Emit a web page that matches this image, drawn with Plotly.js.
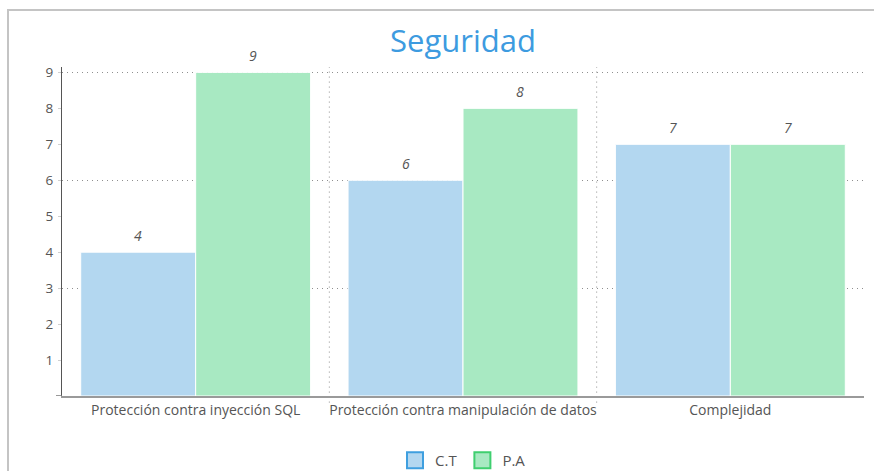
<!DOCTYPE html>
<html>
<head>
<meta charset="utf-8">
<script src="https://cdn.plot.ly/plotly-3.0.1.min.js"></script>
<style>
  html, body { margin: 0; padding: 0; background: #fff; }
  #wrap { position: relative; width: 874px; height: 471px; overflow: hidden; }
  #chart { position: absolute; left: 0; top: 0; width: 874px; height: 471px; }
  #frame { position: absolute; left: 7px; top: 9px; width: 900px; height: 500px;
           border-left: 2px solid #c4c4c4; border-top: 2px solid #c4c4c4; pointer-events: none; }
</style>
</head>
<body>
<div id="wrap">
  <div id="chart"></div>
  <div id="frame"></div>
</div>
<script>
const categories = ["Protección contra inyección SQL", "Protección contra manipulación de datos", "Complejidad"];
const seriesNames = ["C.T", "P.A"];
const valuesCT = [4, 6, 7];
const valuesPA = [9, 8, 7];
const yTickVals = [1, 2, 3, 4, 5, 6, 7, 8, 9];
const yGridVals = [3, 6, 9];
const chartTitle = "Seguridad";

const fillColors = ["#b3d7f0", "#a8e9c2"];
const borderColors = ["#3f9fdf", "#3fcf6f"];
const BARGAP = 0.14;
const yRange = [0, 9.15];
const FONT = "Open Sans, sans-serif";

const series = [valuesCT, valuesPA];

const traces = series.map((vals, k) => ({
  type: "bar",
  x: categories,
  y: vals,
  name: seriesNames[k],
  showlegend: false,
  marker: { color: fillColors[k], line: { color: "#ffffff", width: 1 } },
  hoverinfo: "x+y+name"
}));

// legend-only markers on an overlay axis so they do not affect bar grouping
seriesNames.forEach((nm, k) => {
  traces.push({
    type: "scatter", mode: "markers",
    x: [null], y: [null],
    xaxis: "x2", yaxis: "y2",
    name: nm,
    showlegend: true,
    marker: { symbol: "square", size: 16, color: fillColors[k], line: { color: borderColors[k], width: 2 } }
  });
});

// value labels above bars
const annotations = [];
const half = (1 - BARGAP) / 4;
series.forEach((vals, k) => {
  vals.forEach((v, i) => {
    annotations.push({
      xref: "x", yref: "y",
      x: i + (k === 0 ? -half : half),
      y: v,
      text: String(v),
      showarrow: false,
      yanchor: "bottom",
      yshift: 5,
      font: { family: FONT, size: 14, color: "#555555", style: "italic" }
    });
  });
});

// vertical dotted separators between categories
const shapes = [];
for (let i = 0; i < categories.length - 1; i++) {
  shapes.push({
    type: "line", xref: "x", yref: "paper",
    x0: i + 0.5, x1: i + 0.5, y0: -0.02, y1: 1,
    line: { color: "#8f8f8f", width: 1, dash: "1px,4px" },
    layer: "below"
  });
}
// small crossing extensions at origin
shapes.push({
  type: "line", xref: "paper", yref: "y", xsizemode: "pixel", xanchor: 0,
  x0: -6, x1: 0, y0: 0, y1: 0, line: { color: "#777777", width: 1.5 }
});
shapes.push({
  type: "line", xref: "paper", yref: "y", ysizemode: "pixel", yanchor: 0,
  x0: 0, x1: 0, y0: -7, y1: 0, line: { color: "#555555", width: 1 }
});

const layout = {
  width: 874, height: 471,
  margin: { l: 62, r: 9.5, t: 67, b: 75, autoexpand: false },
  paper_bgcolor: "#ffffff",
  plot_bgcolor: "#ffffff",
  font: { family: FONT, color: "#555555", size: 12 },
  title: {
    text: chartTitle,
    font: { family: FONT, size: 31, color: "#3d9be0" },
    x: 0.5, xref: "paper", xanchor: "center",
    y: 1 - 41 / 471, yanchor: "middle"
  },
  barmode: "group",
  bargap: BARGAP,
  bargroupgap: 0,
  xaxis: {
    type: "category",
    showgrid: false,
    showline: true, linecolor: "#9a9a9a", linewidth: 2,
    ticks: "",
    tickfont: { family: FONT, size: 14, color: "#555555" },
    zeroline: false,
    automargin: false,
    fixedrange: true
  },
  yaxis: {
    range: yRange,
    tickvals: yTickVals,
    showgrid: false,
    showline: true, linecolor: "#555555", linewidth: 1,
    ticks: "outside", ticklen: 3, tickcolor: "#cfcfcf", tickwidth: 1,
    tickfont: { family: FONT, size: 13.5, color: "#555555" },
    ticklabelstandoff: 2,
    zeroline: false,
    automargin: false,
    fixedrange: true
  },
  yaxis2: {
    overlaying: "y",
    range: yRange,
    tickvals: yGridVals,
    showgrid: true, gridcolor: "#8f8f8f", griddash: "1px,4px", gridwidth: 1,
    showticklabels: false, ticks: "", showline: false, zeroline: false,
    fixedrange: true
  },
  xaxis2: {
    overlaying: "x",
    range: [0, 1],
    visible: false,
    fixedrange: true
  },
  showlegend: true,
  legend: {
    orientation: "h",
    x: 0.5, xanchor: "center",
    xref: "paper",
    y: -0.146, yanchor: "top",
    font: { family: FONT, size: 15, color: "#555555" },
    itemwidth: 30,
    traceorder: "normal"
  },
  annotations: annotations,
  shapes: shapes
};

Plotly.newPlot("chart", traces, layout, { displayModeBar: false, staticPlot: true });
</script>
</body>
</html>
